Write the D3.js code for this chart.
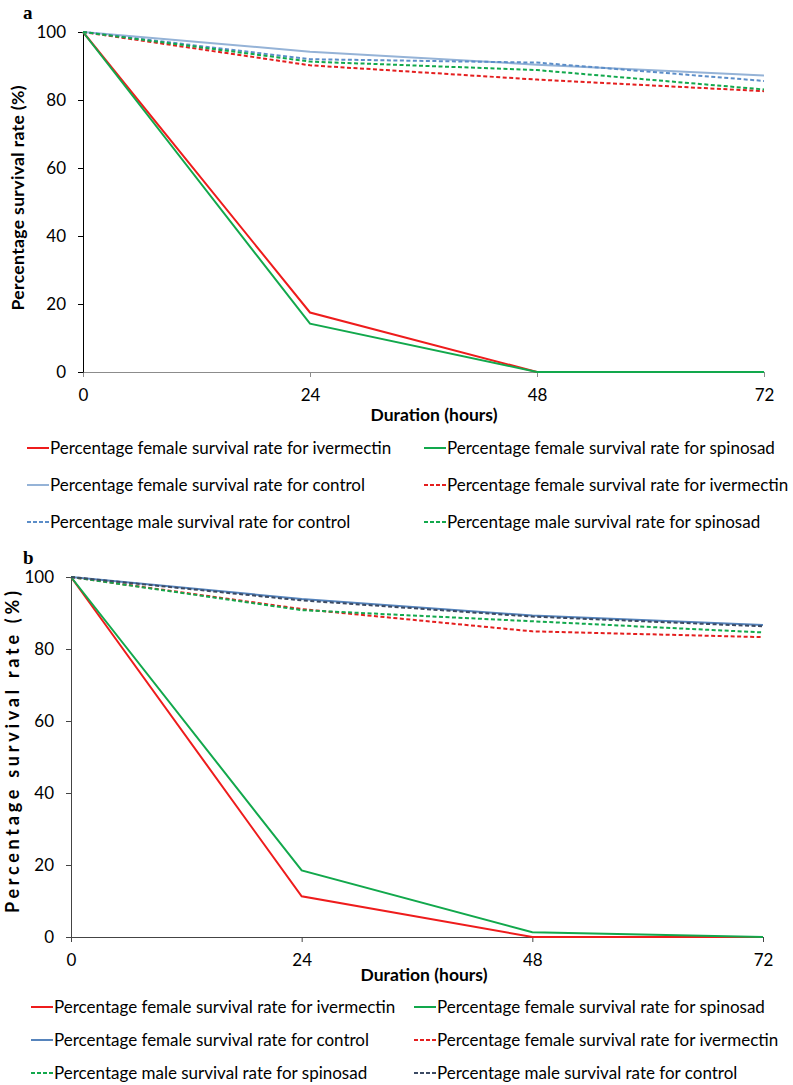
<!DOCTYPE html>
<html>
<head>
<meta charset="utf-8">
<script src="https://cdn.jsdelivr.net/npm/d3@7"></script>
<style>
  body { margin: 0; background: #fff; }
  svg { display: block; font-family: Lato, "Open Sans", sans-serif; }
</style>
</head>
<body>
<svg id="chart" width="793" height="1085"></svg>
<script>
// hours on the x axis, shared by both panels
const hours = [0, 24, 48, 72];
const yTicks = [0, 20, 40, 60, 80, 100];

// panel a
const namesA = [
  "Percentage female survival rate for ivermectin",
  "Percentage female survival rate for spinosad",
  "Percentage female survival rate for control",
  "Percentage female survival rate for ivermectin",
  "Percentage male survival rate for control",
  "Percentage male survival rate for spinosad"
];
const aFemaleIver = [100, 17.5, 0, 0];
const aFemaleSpin = [100, 14.2, 0, 0];
const aFemaleCtrl = [100, 94.2, 90.4, 87.2];
const aIverDashed = [100, 90.2, 86.0, 82.6];
const aMaleCtrl = [100, 92.0, 91.0, 85.6];
const aMaleSpin = [100, 91.3, 88.8, 83.1];

// panel b
const namesB = [
  "Percentage female survival rate for ivermectin",
  "Percentage female survival rate for spinosad",
  "Percentage female survival rate for control",
  "Percentage female survival rate for ivermectin",
  "Percentage male survival rate for spinosad",
  "Percentage male survival rate for control"
];
const bFemaleIver = [100, 11.3, 0, 0];
const bFemaleSpin = [100, 18.5, 1.3, 0];
const bFemaleCtrl = [100, 93.9, 89.3, 86.7];
const bIverDashed = [100, 91.1, 84.9, 83.3];
const bMaleSpin = [100, 90.8, 87.7, 84.6];
const bMaleCtrl = [100, 93.5, 89.0, 86.3];

const svg = d3.select("#chart");

function drawPanel(p) {
  const x = d3.scaleLinear().domain([0, 72]).range([p.left, p.right]);
  const y = d3.scaleLinear().domain([0, 100]).range([p.bottom, p.top]);

  // panel letter
  svg.append("text")
    .attr("x", 23).attr("y", p.letterY)
    .attr("font-family", "'Liberation Serif', serif")
    .attr("font-weight", "bold").attr("font-size", 19)
    .text(p.letter);

  const xAxis = svg.append("g")
    .attr("transform", `translate(0,${p.bottom})`)
    .call(d3.axisBottom(x).tickValues(hours).tickSize(5).tickPadding(12).tickSizeOuter(0));
  xAxis.select(".domain").attr("stroke", p.xAxisColor);
  xAxis.selectAll(".tick line").attr("stroke", p.xAxisColor);
  xAxis.selectAll("text").attr("font-size", 17).attr("font-family", "Lato").attr("fill", "#000");

  const yAxis = svg.append("g")
    .attr("transform", `translate(${p.left},0)`)
    .call(d3.axisLeft(y).tickValues(yTicks).tickSize(5).tickPadding(12).tickSizeOuter(0));
  yAxis.select(".domain").attr("stroke", p.yAxisColor);
  yAxis.selectAll(".tick line").attr("stroke", p.yAxisColor);
  yAxis.selectAll("text").attr("font-size", 17).attr("font-family", "Lato").attr("fill", "#000");

  // axis titles
  svg.append("text")
    .attr("x", p.xTitleX).attr("y", p.xTitleY)
    .attr("text-anchor", "middle")
    .attr("font-weight", "bold").attr("font-size", 17.5)
    .text("Duration (hours)");

  svg.append("text")
    .attr("transform", `translate(${p.yTitleX},${p.yTitleY}) rotate(-90)`)
    .attr("text-anchor", "middle")
    .attr("font-weight", "bold").attr("font-size", p.yTitleSize)
    .attr("textLength", p.yTitleLen).attr("lengthAdjust", "spacing")
    .text("Percentage  survival  rate (%)");

  const line = d3.line().x((d, i) => x(hours[i])).y(d => y(d));

  p.series.forEach(s => {
    svg.append("path")
      .datum(s.values)
      .attr("d", line)
      .attr("fill", "none")
      .attr("stroke", s.color)
      .attr("stroke-width", 2)
      .attr("stroke-dasharray", s.dash ? "4,2.5" : null);
  });

  // legend: two columns, three rows
  p.series.forEach((s, i) => {
    const col = i % 2, row = Math.floor(i / 2);
    const lx = p.legendX[col], ly = p.legendY + row * p.legendStep;
    svg.append("line")
      .attr("x1", lx).attr("x2", lx + 22)
      .attr("y1", ly).attr("y2", ly)
      .attr("stroke", s.color).attr("stroke-width", 2)
      .attr("stroke-dasharray", s.dash ? "4,2" : null);
    svg.append("text")
      .attr("x", lx + 23).attr("y", ly)
      .attr("dy", "0.35em")
      .attr("font-size", 17)
      .text(s.name);
  });
}

drawPanel({
  letter: "a", letterY: 19,
  left: 83, right: 764, top: 32, bottom: 372,
  xAxisColor: "#8c8c8c", yAxisColor: "#000",
  xTitleX: 434, xTitleY: 421,
  yTitleX: 24, yTitleY: 198, yTitleLen: 225, yTitleSize: 17.5,
  legendX: [27, 424], legendY: 448, legendStep: 37,
  series: [
    { name: namesA[0], values: aFemaleIver, color: "#ee1c1c", dash: false },
    { name: namesA[1], values: aFemaleSpin, color: "#12a84c", dash: false },
    { name: namesA[2], values: aFemaleCtrl, color: "#95b3d7", dash: false },
    { name: namesA[3], values: aIverDashed, color: "#e41e1e", dash: true },
    { name: namesA[4], values: aMaleCtrl, color: "#5b8dc8", dash: true },
    { name: namesA[5], values: aMaleSpin, color: "#12a84c", dash: true }
  ]
});

drawPanel({
  letter: "b", letterY: 564,
  left: 71, right: 763, top: 577, bottom: 937,
  xAxisColor: "#444", yAxisColor: "#444",
  xTitleX: 424, xTitleY: 981,
  yTitleX: 19, yTitleY: 752, yTitleLen: 322, yTitleSize: 18,
  legendX: [31, 414], legendY: 1007, legendStep: 33,
  series: [
    { name: namesB[0], values: bFemaleIver, color: "#ee1c1c", dash: false },
    { name: namesB[1], values: bFemaleSpin, color: "#12a84c", dash: false },
    { name: namesB[2], values: bFemaleCtrl, color: "#5684bc", dash: false },
    { name: namesB[3], values: bIverDashed, color: "#e41e1e", dash: true },
    { name: namesB[4], values: bMaleSpin, color: "#12a84c", dash: true },
    { name: namesB[5], values: bMaleCtrl, color: "#3b4a63", dash: true }
  ]
});
</script>
</body>
</html>
